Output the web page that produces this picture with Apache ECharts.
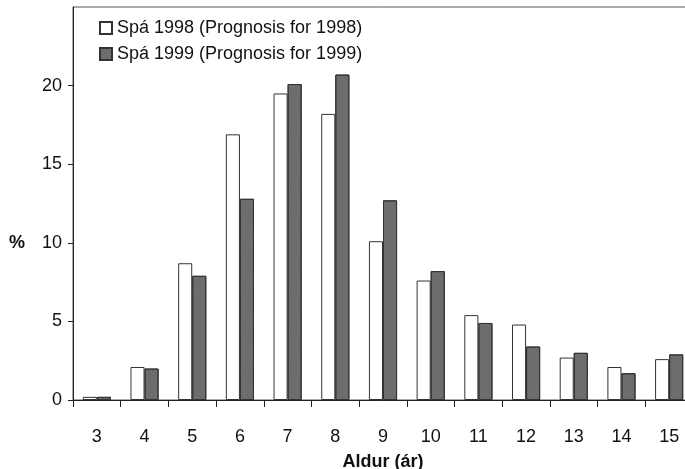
<!DOCTYPE html>
<html><head><meta charset="utf-8">
<script src="https://cdn.jsdelivr.net/npm/echarts@6/dist/echarts.min.js"></script>
<style>html,body{margin:0;padding:0;background:#fff}#c{width:685px;height:469px}</style>
</head><body><div id="c"></div>
<script>
const categories = ['3','4','5','6','7','8','9','10','11','12','13','14','15'];
const spa1998 = [0.2, 2.1, 8.7, 16.9, 19.5, 18.2, 10.1, 7.6, 5.4, 4.8, 2.7, 2.1, 2.6];
const spa1999 = [0.2, 2.0, 7.9, 12.8, 20.1, 20.7, 12.7, 8.2, 4.9, 3.4, 3.0, 1.7, 2.9];
const seriesNames = ['Spá 1998 (Prognosis for 1998)', 'Spá 1999 (Prognosis for 1999)'];
const yTicks = [0, 5, 10, 15, 20];

const font = 'Liberation Sans, Arial, sans-serif';
const chart = echarts.init(document.getElementById('c'), null, {renderer:'canvas'});
chart.setOption({
  animation: false,
  backgroundColor: '#fff',
  grid: {left: 73, top: 7, right: -8, bottom: 69, show: true, borderColor: '#555', borderWidth: 1,
         containLabel: false, outerBoundsMode: 'none'},
  legend: {
    orient: 'vertical', left: 94, top: 14, itemGap: 8, itemWidth: 12, itemHeight: 12, icon: 'rect',
    textStyle: {fontFamily: font, fontSize: 18, color: '#111'},
    data: seriesNames
  },
  graphic: [{type: 'text', left: 9, top: 234, style: {text: '%', font: 'bold 18px ' + font, fill: '#111'}}],
  xAxis: {
    type: 'category', data: categories,
    name: 'Aldur (ár)', nameLocation: 'middle', nameGap: 53,
    nameTextStyle: {fontFamily: font, fontSize: 18, fontWeight: 'bold', color: '#111'},
    axisLine: {lineStyle: {color: '#222', width: 1}},
    axisTick: {show: true, length: 7, lineStyle: {color: '#222'}},
    axisLabel: {fontFamily: font, fontSize: 18, color: '#111', margin: 28}
  },
  yAxis: {
    type: 'value', min: 0, max: 25, interval: 5,
    axisLine: {show: true, lineStyle: {color: '#222', width: 1}},
    axisTick: {show: true, length: 5, lineStyle: {color: '#222'}},
    axisLabel: {fontFamily: font, fontSize: 18, color: '#111', margin: 11, showMaxLabel: false,
      formatter: v => yTicks.includes(v) ? String(v) : ''},
    splitLine: {show: false}
  },
  series: [
    {name: seriesNames[0], type: 'bar', data: spa1998, barGap: '0%', barCategoryGap: '41%',
     itemStyle: {color: '#ffffff', borderColor: '#333', borderWidth: 1}},
    {name: seriesNames[1], type: 'bar', data: spa1999,
     itemStyle: {color: '#737373', borderColor: '#333', borderWidth: 1,
       decal: {symbol: 'rect', symbolSize: 0.5, color: 'rgba(40,40,40,0.5)', dashArrayX: [1,0], dashArrayY: [2,1], rotation: 0.6}}}
  ]
});
</script></body></html>
